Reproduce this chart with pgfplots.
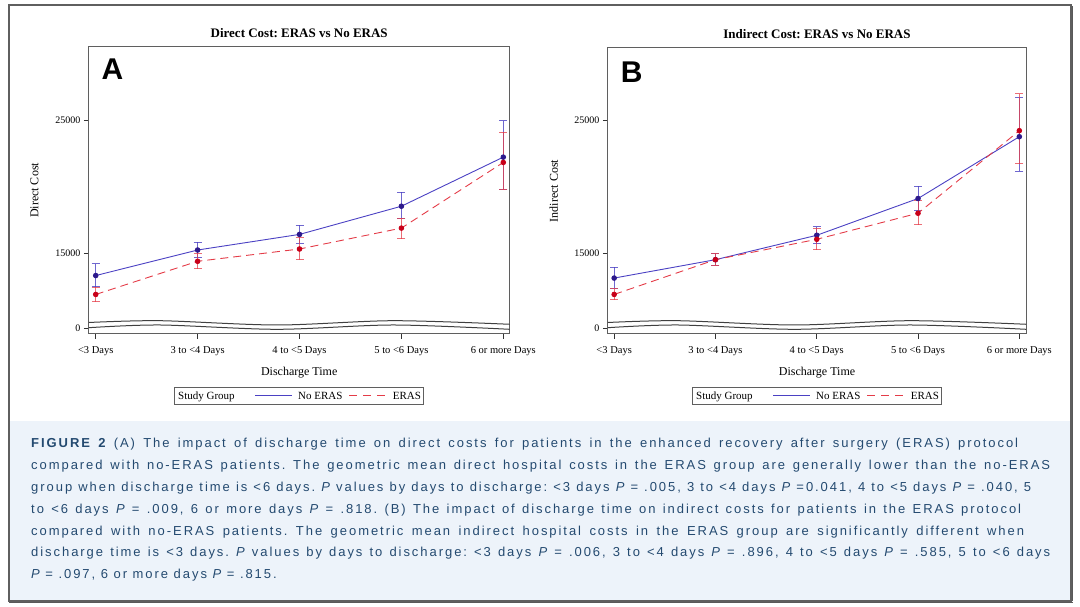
\documentclass[border=0pt]{standalone}
\usepackage{pgfplots}
\pgfplotsset{compat=1.18}
\usepackage{fontspec}
\setmainfont{Liberation Serif}
\newfontfamily\capfont[LetterSpace=15]{Liberation Sans}
\newfontfamily\panelfont{Liberation Sans}
\definecolor{blueline}{RGB}{75,65,195}
\definecolor{bluemark}{RGB}{45,25,140}
\definecolor{redline}{RGB}{228,60,72}
\definecolor{redmark}{RGB}{200,0,25}
\definecolor{captxt}{RGB}{36,74,112}
\definecolor{capbg}{RGB}{237,243,250}
\definecolor{framecol}{RGB}{95,95,95}
\frenchspacing

\pgfplotsset{
  erasaxis/.style={
    scale only axis, clip=false, scaled y ticks=false,
    xtick={0,1,2,3,4},
    xticklabels={{<3 Days},{3 to <4 Days},{4 to <5 Days},{5 to <6 Days},{6 or more Days}},
    ytick={9340,15000,25000}, yticklabels={0,15000,25000},
    ymin=8909,
    tick align=outside, major tick length=5pt,
    xtick pos=bottom, ytick pos=left,
    axis line style={line width=1pt, color=framecol},
    tick style={line width=0.8pt, color=black!80},
    xticklabel style={font=\fontsize{10.5}{11}\selectfont, yshift=-4pt},
    yticklabel style={font=\fontsize{10}{11}\selectfont},
    label style={font=\fontsize{12}{13}\selectfont},
    title style={font=\bfseries\fontsize{13}{14}\selectfont, at={(axis description cs:0.5,1.027)}, anchor=center},
    xlabel style={at={(axis description cs:0.5,-0.135)}, anchor=center},
  },
  wave/.style={smooth, draw=black!75, line width=1pt, forget plot},
  noeras/.style={draw=blueline, line width=0.9pt, mark=*, mark size=2.3pt,
    mark options={fill=bluemark, draw=bluemark, solid}},
  eras/.style={draw=redline, line width=0.9pt, dash pattern=on 8pt off 5pt, mark=*, mark size=2.3pt,
    mark options={fill=redmark, draw=redmark, solid}},
}

\newcommand\studylegend[1]{%
  \begin{scope}[xshift=#1]
    \draw[draw=framecol, line width=0.9pt] (174.6,203) rectangle (423.5,220);
    \node[anchor=base west, inner sep=0, font=\fontsize{11}{12}\selectfont] at (178,207.5) {Study Group};
    \fill[blueline] (255,210.6) rectangle (292,211.8);
    \node[anchor=base west, inner sep=0, font=\fontsize{11}{12}\selectfont] at (298,207.5) {No ERAS};
    \foreach \s in {348.5,362.5,376.5}{\fill[redline] (\s,210.6) rectangle ({\s+8.5},211.8);}
    \node[anchor=base west, inner sep=0, font=\fontsize{11}{12}\selectfont] at (392.6,207.5) {ERAS};
  \end{scope}}

\begin{document}
\begin{tikzpicture}
\path[use as bounding box] (0pt,0pt) rectangle (1080pt,607pt);
\fill[capbg] (9pt,6pt) rectangle (1071pt,186pt);
\draw[framecol, line width=1.3pt] (9pt,6pt) rectangle (1071pt,602pt);
\draw[black!65, line width=1.2pt] (1072.3pt,5.5pt) -- (1072.3pt,601pt);
\draw[black!65, line width=1.2pt] (9pt,4.8pt) -- (1072.8pt,4.8pt);

\begin{scope}[x=1pt,y=1pt]
\studylegend{0pt}
\studylegend{518pt}
\end{scope}

% ---------------- Panel A ----------------
\begin{axis}[erasaxis,
  anchor=north west, at={(88.8pt,560pt)}, width=420.8pt, height=287pt,
  xmin=-0.068, xmax=4.062, ymax=30490,
  title={Direct Cost: ERAS vs No ERAS},
  xlabel={Discharge Time}, ylabel={Direct Cost},
  ylabel style={at={(axis description cs:-0.129,0.5)}, anchor=center},
]
\addplot[wave] coordinates {(-0.068,9774) (0.63,9909) (1.78,9586) (2.92,9909) (4.062,9640)};
\addplot[wave] coordinates {(-0.068,9383) (0.63,9586) (1.78,9262) (2.92,9586) (4.062,9262)};
\addplot[noeras,
    error bars/.cd, y dir=both, y explicit,
    error bar style={draw=blueline, draw opacity=0.8, line width=1pt, solid},
    error mark options={rotate=90, draw=blueline, draw opacity=0.8, line width=1pt, mark size=4pt}]
 coordinates {
  (0,13304) += (0,873) -= (0,848)
  (1,15224) += (0,599) -= (0,573)
  (2,16397) += (0,673) -= (0,674)
  (3,18516) += (0,1048) -= (0,897)
  (4,22207) += (0,2718) -= (0,2444)
};
\addplot[eras,
    error bars/.cd, y dir=both, y explicit,
    error bar style={draw=redline, draw opacity=0.75, line width=1pt, solid},
    error mark options={rotate=90, draw=redline, draw opacity=0.75, line width=1pt, mark size=4pt}]
 coordinates {
  (0,11882) += (0,549) -= (0,548)
  (1,14376) += (0,549) -= (0,573)
  (2,15299) += (0,848) -= (0,798)
  (3,16871) += (0,748) -= (0,799)
  (4,21809) += (0,2269) -= (0,2046)
};
\node[font=\panelfont\bfseries\fontsize{30}{30}\selectfont, inner sep=0] at (axis description cs:0.0563,0.923) {A};
\end{axis}

% ---------------- Panel B ----------------
\begin{axis}[erasaxis,
  anchor=north west, at={(607.8pt,559pt)}, width=418.4pt, height=286pt,
  xmin=-0.063, xmax=4.068, ymax=30416,
  title={Indirect Cost: ERAS vs No ERAS},
  xlabel={Discharge Time}, ylabel={Indirect Cost},
  ylabel style={at={(axis description cs:-0.129,0.5)}, anchor=center},
]
\addplot[wave] coordinates {(-0.063,9774) (0.63,9909) (1.78,9586) (2.92,9909) (4.068,9640)};
\addplot[wave] coordinates {(-0.063,9383) (0.63,9586) (1.78,9262) (2.92,9586) (4.068,9262)};
\addplot[noeras,
    error bars/.cd, y dir=both, y explicit,
    error bar style={draw=blueline, draw opacity=0.8, line width=1pt, solid},
    error mark options={rotate=90, draw=blueline, draw opacity=0.8, line width=1pt, mark size=4pt}]
 coordinates {
  (0,13115) += (0,804) -= (0,754)
  (1,14497) += (0,478) -= (0,427)
  (2,16332) += (0,653) -= (0,628)
  (3,19096) += (0,905) -= (0,904)
  (4,23745) += (0,2915) -= (0,2613)
};
\addplot[eras,
    error bars/.cd, y dir=both, y explicit,
    error bar style={draw=redline, draw opacity=0.75, line width=1pt, solid},
    error mark options={rotate=90, draw=redline, draw opacity=0.75, line width=1pt, mark size=4pt}]
 coordinates {
  (0,11884) += (0,427) -= (0,402)
  (1,14497) += (0,478) -= (0,452)
  (2,16030) += (0,804) -= (0,779)
  (3,17990) += (0,981) -= (0,879)
  (4,24198) += (0,2764) -= (0,2488)
};
\node[font=\panelfont\bfseries\fontsize{30}{30}\selectfont, inner sep=0] at (axis description cs:0.0569,0.917) {B};
\end{axis}

\begin{scope}[x=1pt,y=1pt]
% ---------------- Caption ----------------
\tikzset{capline/.style={anchor=base west, inner sep=0, text=captxt, font=\capfont\fontsize{13}{15}\selectfont}}
\node[capline] at (31,159) {\makebox[987pt][s]{{\bfseries FIGURE 2} (A) The impact of discharge time on direct costs for patients in the enhanced recovery after surgery (ERAS) protocol}};
\node[capline] at (31,137.2) {\makebox[1019pt][s]{compared with no-ERAS patients. The geometric mean direct hospital costs in the ERAS group are generally lower than the no-ERAS}};
\node[capline] at (31,115.4) {\makebox[1000pt][s]{group when discharge time is <6 days. {\itshape P} values by days to discharge: <3 days {\itshape P} = .005, 3 to <4 days {\itshape P} =0.041, 4 to <5 days {\itshape P} = .040, 5}};
\node[capline] at (31,93.6) {\makebox[990pt][s]{to <6 days {\itshape P} = .009, 6 or more days {\itshape P} = .818. (B) The impact of discharge time on indirect costs for patients in the ERAS protocol}};
\node[capline] at (31,71.8) {\makebox[993pt][s]{compared with no-ERAS patients. The geometric mean indirect hospital costs in the ERAS group are significantly different when}};
\node[capline] at (31,50) {\makebox[1019pt][s]{discharge time is <3 days. {\itshape P} values by days to discharge: <3 days {\itshape P} = .006, 3 to <4 days {\itshape P} = .896, 4 to <5 days {\itshape P} = .585, 5 to <6 days}};
\node[capline] at (31,28.2) {{\itshape P} = .097, 6 or more days {\itshape P} = .815.};
\end{scope}
\end{tikzpicture}
\end{document}
